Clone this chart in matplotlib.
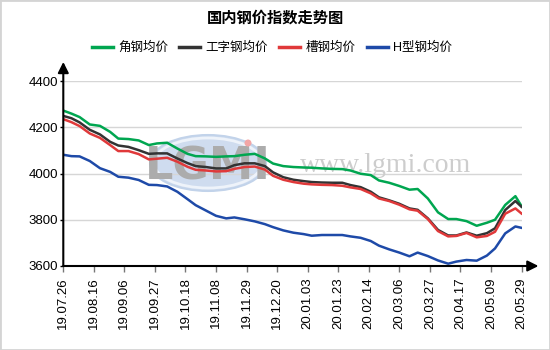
import matplotlib

matplotlib.use('Agg')
import matplotlib.pyplot as plt
from matplotlib.patches import Ellipse, Rectangle

plt.rcParams['font.family'] = ['Liberation Sans', 'Noto Sans CJK SC', 'DejaVu Sans']

# ----- data: steel price index by trading day ----------------------------
DAY = [0, 4, 8, 13, 18, 23, 27, 32, 37, 42, 46, 51, 56, 61, 65, 70, 75,
       80, 84, 89, 94, 99, 103, 108, 113, 118, 122, 127, 132, 137, 141, 146,
       151, 155, 160, 165, 170, 174, 179, 184, 189, 193, 198, 203, 208, 212,
       217, 222, 225]

ANGLE = [4272, 4259, 4244, 4212, 4206, 4180, 4151, 4149, 4143, 4123, 4130,
         4133, 4108, 4085, 4075, 4074, 4072,
         4074, 4075, 4081, 4085, 4065, 4043, 4032, 4028, 4026, 4025, 4022,
         4020, 4019, 4013, 3999, 3993,
         3970, 3960, 3946, 3930, 3933, 3892, 3832, 3803, 3803, 3794, 3774,
         3787, 3800, 3864, 3902, 3859]

IBEAM = [4249, 4239, 4221, 4189, 4169, 4137, 4121, 4115, 4101, 4085, 4087,
         4087, 4065, 4045, 4032, 4028, 4022,
         4022, 4036, 4044, 4044, 4032, 4005, 3984, 3973, 3967, 3963, 3961,
         3960, 3960, 3950, 3941, 3921,
         3897, 3884, 3869, 3849, 3843, 3806, 3756, 3732, 3732, 3745, 3731,
         3742, 3763, 3842, 3881, 3856]

CHANNEL = [4235, 4222, 4205, 4173, 4154, 4123, 4097, 4097, 4084, 4061, 4064,
           4068, 4051, 4029, 4016, 4013, 4009,
           4010, 4020, 4028, 4030, 4017, 3990, 3973, 3963, 3956, 3953, 3951,
           3950, 3947, 3940, 3933, 3914,
           3892, 3881, 3865, 3845, 3839, 3803, 3751, 3728, 3730, 3743, 3724,
           3730, 3748, 3826, 3849, 3827]

HBEAM = [4081, 4075, 4074, 4054, 4023, 4007, 3986, 3982, 3972, 3951, 3950,
         3944, 3921, 3889, 3863, 3840, 3817,
         3806, 3810, 3802, 3793, 3781, 3768, 3754, 3744, 3738, 3731, 3734,
         3734, 3734, 3728, 3722, 3708,
         3688, 3672, 3658, 3642, 3658, 3643, 3624, 3610, 3619, 3626, 3623,
         3645, 3676, 3741, 3771, 3765]

TICK_DAY = [0, 15, 30, 45, 60, 75, 90, 105, 120, 135, 150, 165, 180, 195,
            210, 225]
TICK_LABELS = ['19.07.26', '19.08.16', '19.09.06', '19.09.27', '19.10.18',
               '19.11.08', '19.11.29', '19.12.20', '20.01.03', '20.01.23',
               '20.02.14', '20.03.06', '20.03.27', '20.04.17', '20.05.09',
               '20.05.29']
Y_TICKS = [3600, 3800, 4000, 4200, 4400]

SERIES = [
    ('角钢均价', ANGLE, '#00a650'),
    ('工字钢均价', IBEAM, '#333333'),
    ('槽钢均价', CHANNEL, '#e0393a'),
    ('H型钢均价', HBEAM, '#1e4aa8'),
]
# -------------------------------------------------------------------------

W, H = 550, 350
fig = plt.figure(figsize=(W / 100, H / 100), dpi=100)
ax = fig.add_axes([63.3 / W, 1 - 266 / H, (521.5 - 63.3) / W, 185 / H])

# faint site watermark behind the lines
ax.add_patch(Ellipse((208 / W, 1 - 163 / H), 116 / W, 56 / H,
                     transform=fig.transFigure, facecolor='#cfdcef',
                     edgecolor='#c2d3ea', lw=1.5, zorder=0.5, clip_on=False))
ax.add_patch(Ellipse((208 / W, 1 - 163 / H), 108 / W, 50 / H,
                     transform=fig.transFigure, facecolor='none',
                     edgecolor='#eef3fa', lw=2, zorder=0.55, clip_on=False))
ax.text(208 / W, 1 - 167 / H, 'LGMI', transform=fig.transFigure,
        ha='center', va='center', fontsize=32, fontweight='bold',
        family='Liberation Sans Narrow', color='#acacac', zorder=0.6)
ax.add_patch(Ellipse((248 / W, 1 - 143 / H), 7 / W, 7 / H,
                     transform=fig.transFigure, facecolor='#f2a6a6',
                     edgecolor='none', zorder=0.6))
ax.text(386 / W, 1 - 166 / H, 'www.lgmi.com', transform=fig.transFigure,
        ha='center', va='center', fontsize=20, family='Liberation Serif',
        color='#cdcdcd', zorder=0.6)

for label, vals, color in SERIES:
    ax.plot(DAY, vals, color=color, lw=1.8, label=label, zorder=3,
            solid_joinstyle='round')

ax.set_xlim(0, 225)
ax.set_ylim(3600, 4400)
ax.set_yticks(Y_TICKS)
ax.set_xticks(TICK_DAY)
ax.set_xticklabels(TICK_LABELS, rotation=90)
ax.tick_params(axis='y', length=2.5, width=1, pad=1, labelsize=9.5)
ax.tick_params(axis='x', length=4, width=1, pad=4, labelsize=9.5,
               color='#777777')
ax.yaxis.grid(True, color='#d6d6d6', lw=1)
ax.set_axisbelow(True)

for side in ('top', 'right', 'left', 'bottom'):
    ax.spines[side].set_visible(False)
# axis lines with arrow heads past the plot area
arrow = dict(arrowstyle='-|>', color='black', lw=1.5, mutation_scale=16,
             shrinkA=0, shrinkB=0)
ax.annotate('', xy=(0, 1.103), xytext=(0, 0), xycoords='axes fraction',
            arrowprops=arrow, annotation_clip=False)
ax.annotate('', xy=(1.037, 0), xytext=(0, 0), xycoords='axes fraction',
            arrowprops=arrow, annotation_clip=False)

fig.text(0.5, 1 - 18 / H, '国内钢价指数走势图', ha='center', va='center',
         fontsize=11, fontweight='bold', family='Noto Sans CJK SC')

leg = ax.legend(loc='center', bbox_to_anchor=(0.494, 1 - 48 / H),
                bbox_transform=fig.transFigure, ncol=4, frameon=False,
                fontsize=9, handlelength=1.7, handletextpad=0.4,
                columnspacing=0.9)
for line in leg.get_lines():
    line.set_linewidth(2.5)

fig.patches.append(Rectangle((0, 0), 1, 1, transform=fig.transFigure,
                             fill=False, edgecolor='#d4d4d4', lw=2))

fig.savefig('out.png', dpi=100)
